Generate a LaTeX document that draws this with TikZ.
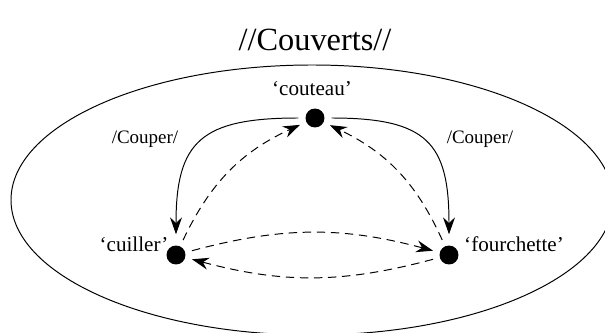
\documentclass[tikz,border=0pt]{standalone}
\usepackage{fontspec}
\setmainfont{Liberation Serif}
\usetikzlibrary{arrows.meta}
\begin{document}
\begin{tikzpicture}[x=0.025cm, y=-0.025cm, line width=0.7pt,
      >={Stealth[length=12pt, width=8.5pt, inset=4pt]},
      etat/.style={circle, fill=black, inner sep=0pt, minimum size=13.5pt, outer sep=5pt},
      lbl/.style={font=\fontsize{15}{17}\selectfont, inner sep=0pt},
      act/.style={font=\fontsize{13.5}{15}\selectfont, inner sep=0pt},
      trans/.style={->, dash pattern=on 6pt off 4pt}]
    \useasboundingbox (0,0) rectangle (605,333);
    \clip (0,0) rectangle (605,333);
    \node[font=\fontsize{23}{26}\selectfont] (titre) at (315,40) {//Couverts//};
    \draw (312,200) ellipse [x radius=301, y radius=135];
    \node[etat] (couteau) at (315,118) {};
    \node[etat] (cuiller) at (176,255) {};
    \node[etat] (fourch) at (449,255) {};
    \node[lbl] (lcouteau) at (312,89) {`couteau'};
    \node[lbl] (lcuiller) at (134,244) {`cuiller'};
    \node[lbl] (lfourch) at (514,244) {`fourchette'};
    \node[act] (cg) at (145,139) {/Couper/};
    \node[act] (cd) at (480,139) {/Couper/};
    \draw[->, shorten >=3pt] (couteau.west) to[out=180, in=90, looseness=1.45] (cuiller.north);
    \draw[->, shorten >=3pt] (couteau.east) to[out=0, in=90, looseness=1.45] (fourch.north);
    \draw[trans] (cuiller) to[bend left=20] (couteau);
    \draw[trans] (fourch) to[bend right=20] (couteau);
    \draw[trans] (cuiller) to[bend left=15] (fourch);
    \draw[trans] (fourch) to[bend left=15] (cuiller);
  \end{tikzpicture}
\end{document}
